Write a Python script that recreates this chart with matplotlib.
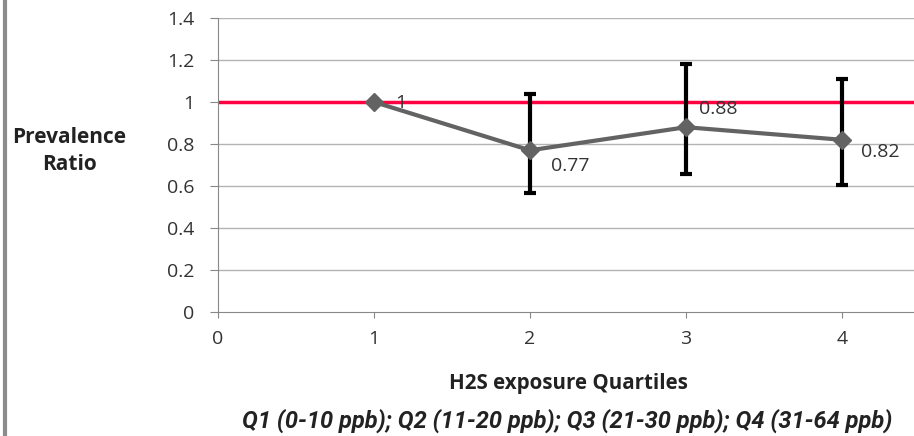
import matplotlib
matplotlib.use("Agg")
import matplotlib.pyplot as plt
from matplotlib.lines import Line2D

plt.rcParams['font.family'] = ['Open Sans', 'DejaVu Sans']

# data
quartiles = [1, 2, 3, 4]
ratios = [1.0, 0.77, 0.88, 0.82]
ci_low = [None, 0.565, 0.655, 0.605]
ci_high = [None, 1.04, 1.18, 1.11]
labels = ['1', '0.77', '0.88', '0.82']
label_offsets = [(15, -1), (15, -11), (9, 13), (14, -9)]
yticks = [0, 0.2, 0.4, 0.6, 0.8, 1, 1.2, 1.4]
ytick_labels = ['0', '0.2', '0.4', '0.6', '0.8', '1', '1.2', '1.4']
xticks = [0, 1, 2, 3, 4]

narrow = ['Roboto', 'DejaVu Sans']

fig = plt.figure(figsize=(9.14, 4.36), dpi=100)
ax = fig.add_axes([218 / 914, 124 / 436, 696 / 914, 294 / 436])

ax.set_xlim(0, 696 / 156)
ax.set_ylim(0, 1.4)

# grid
for y in yticks[1:]:
    ax.axhline(y, color='#b3b3b3', lw=1, zorder=0)

# reference line
ax.axhline(1, color='#ff0040', lw=2.5, zorder=1)

# error bars (Q2-Q4)
for x, r, lo, hi in zip(quartiles, ratios, ci_low, ci_high):
    if lo is None:
        continue
    ax.errorbar(x, r, yerr=[[r - lo], [hi - r]], fmt='none', ecolor='black',
                elinewidth=3, capsize=4.5, capthick=3, zorder=2)

ax.plot(quartiles, ratios, color='#636363', lw=3, marker='D', markersize=9,
        markerfacecolor='#636363', markeredgecolor='#636363', zorder=3)

for x, r, t, off in zip(quartiles, ratios, labels, label_offsets):
    ax.annotate(t, (x, r), xytext=off, textcoords='offset points',
                fontsize=14, color='#333333', va='center', ha='left', zorder=4)

ax.set_yticks(yticks)
ax.set_yticklabels(ytick_labels)
ax.set_xticks(xticks)
ax.tick_params(axis='both', colors='#888888', labelcolor='#333333', labelsize=14,
               direction='out')
ax.tick_params(axis='x', length=4, pad=9)
ax.tick_params(axis='y', length=6, pad=11)

for s in ['top', 'right']:
    ax.spines[s].set_visible(False)
for s in ['left', 'bottom']:
    ax.spines[s].set_color('#888888')

fig.text(69 / 914, 1 - 151 / 436, 'Prevalence\nRatio', ha='center', va='center',
         fontsize=15, fontweight='bold', color='#222222', linespacing=1.4)
fig.text(568 / 914, 1 - 383 / 436, 'H2S exposure Quartiles', ha='center', va='center',
         fontsize=14.8, fontweight='bold', color='#222222')
fig.text(567 / 914, 1 - 421 / 436,
         'Q1 (0-10 ppb); Q2 (11-20 ppb); Q3 (21-30 ppb); Q4 (31-64 ppb)',
         ha='center', va='center', fontsize=17, fontweight='bold',
         style='italic', color='#222222', family=narrow)

# gray frame edge at the left
fig.add_artist(Line2D([5 / 914, 5 / 914], [0, 1], color='#8c8c8c', lw=3,
                      transform=fig.transFigure))

fig.savefig('out.png', dpi=100)
